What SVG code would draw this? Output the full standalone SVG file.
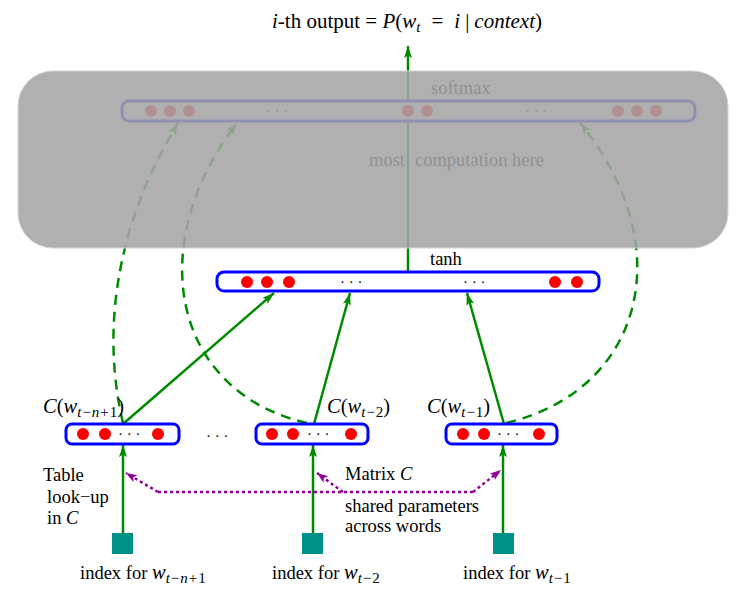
<svg xmlns="http://www.w3.org/2000/svg" width="752" height="590" viewBox="0 0 752 590">
<style>
  .t { font-family: "Liberation Serif", "Times New Roman", serif; font-size: 18.5px; fill: #000; }
  .big { font-size: 20.5px; }
  .ttl { font-size: 21px; }
  .it { font-style: italic; }
  .sub { font-size: 15px; }
  .layer { fill: #fff; stroke: #0000ff; stroke-width: 3; }
  .dot { fill: #ff0000; }
  .ell { font-family: "Liberation Serif", serif; font-size: 15px; fill: #000; }
  .arr { fill: none; stroke: #008a00; stroke-width: 2.5; }
  .dash { fill: none; stroke: #008a00; stroke-width: 2.5; stroke-dasharray: 10 7; }
  .pur { fill: none; stroke: #8e0096; stroke-width: 2.5; stroke-dasharray: 3 3; }
  .idx { fill: #009088; }
</style>
<defs>
  <marker id="ag" markerUnits="userSpaceOnUse" markerWidth="14" markerHeight="10" refX="12" refY="4" orient="auto">
    <path d="M0,0 L12,4 L0,8 L2.5,4 z" fill="#008a00"/>
  </marker>
  <marker id="ap" markerUnits="userSpaceOnUse" markerWidth="14" markerHeight="10" refX="11" refY="4" orient="auto">
    <path d="M0,0 L11,4 L0,8 L2.5,4 z" fill="#8e0096"/>
  </marker>
</defs>

<!-- title -->
<text class="t ttl" x="272" y="28"><tspan class="it">i</tspan>-th output = <tspan class="it">P</tspan>(<tspan class="it">w</tspan><tspan class="it sub" dy="4">t</tspan><tspan dy="-4" dx="11">=</tspan><tspan class="it" dx="11">i</tspan><tspan dx="5">|</tspan><tspan class="it" dx="5">context</tspan>)</text>

<g id="connectors">
  <line class="arr" x1="408" y1="272" x2="408" y2="46" marker-end="url(#ag)"/>
  <line class="arr" x1="123" y1="424" x2="274" y2="293" marker-end="url(#ag)"/>
  <line class="arr" x1="314" y1="424" x2="350" y2="293" marker-end="url(#ag)"/>
  <line class="arr" x1="504" y1="424" x2="467" y2="293" marker-end="url(#ag)"/>
  <path class="dash" d="M123,423 C101,330 116,225 178,123" marker-end="url(#ag)"/>
  <path class="dash" d="M307,423 C172,392 143,245 237,123" marker-end="url(#ag)"/>
  <path class="dash" d="M506,423 C645,390 680,245 580,123" marker-end="url(#ag)"/>
  <line class="arr" x1="123" y1="533" x2="123" y2="445" marker-end="url(#ag)"/>
  <line class="arr" x1="313" y1="533" x2="313" y2="445" marker-end="url(#ag)"/>
  <line class="arr" x1="503" y1="533" x2="503" y2="445" marker-end="url(#ag)"/>
  <path class="pur" d="M158,492 L473,492"/>
  <path class="pur" d="M158,492 L126,473" marker-end="url(#ap)"/>
  <path class="pur" d="M343,492 L317,473" marker-end="url(#ap)"/>
  <path class="pur" d="M473,492 L501,470" marker-end="url(#ap)"/>
</g>

<g id="softmax">
  <rect class="layer" x="122" y="101" width="573" height="20" rx="7"/>
  <circle class="dot" cx="151" cy="111" r="6"/>
  <circle class="dot" cx="170" cy="111" r="6"/>
  <circle class="dot" cx="189" cy="111" r="6"/>
  <text class="ell" x="266" y="116">· · ·</text>
  <circle class="dot" cx="408" cy="111" r="6"/>
  <circle class="dot" cx="427" cy="111" r="6"/>
  <text class="ell" x="525" y="116">· · ·</text>
  <circle class="dot" cx="618" cy="111" r="6"/>
  <circle class="dot" cx="637" cy="111" r="6"/>
  <circle class="dot" cx="656" cy="111" r="6"/>
  <text class="t" x="431" y="94">softmax</text>
  <text class="t" x="369" y="166">most<tspan dx="10">computation here</tspan></text>
</g>

<g id="hidden">
  <rect class="layer" x="217" y="272" width="382" height="19" rx="7"/>
  <circle class="dot" cx="247" cy="282" r="6"/>
  <circle class="dot" cx="267" cy="282" r="6"/>
  <circle class="dot" cx="289" cy="282" r="6"/>
  <text class="ell" x="340" y="287">· · ·</text>
  <text class="ell" x="463" y="287">· · ·</text>
  <circle class="dot" cx="555" cy="282" r="6"/>
  <circle class="dot" cx="577" cy="282" r="6"/>
  <text class="t" x="430" y="265">tanh</text>
</g>

<g id="c1">
  <rect class="layer" x="66" y="424" width="113" height="20" rx="6"/>
  <circle class="dot" cx="83" cy="434" r="6"/>
  <circle class="dot" cx="105" cy="434" r="6"/>
  <text class="ell" x="118" y="439">· · ·</text>
  <circle class="dot" cx="158" cy="434" r="6"/>
  <text class="t big" x="43" y="413"><tspan class="it">C</tspan>(<tspan class="it">w</tspan><tspan class="sub" dy="4"><tspan class="it">t</tspan><tspan dx="1">−</tspan><tspan class="it" dx="1">n</tspan><tspan dx="1">+</tspan><tspan dx="1">1</tspan></tspan><tspan dy="-4">)</tspan></text>
</g>
<text id="between" class="ell" x="206" y="441">· · ·</text>
<g id="c2">
  <rect class="layer" x="256" y="424" width="112" height="20" rx="6"/>
  <circle class="dot" cx="272" cy="434" r="6"/>
  <circle class="dot" cx="293" cy="434" r="6"/>
  <text class="ell" x="307" y="439">· · ·</text>
  <circle class="dot" cx="351" cy="434" r="6"/>
  <text class="t big" x="327" y="413"><tspan class="it">C</tspan>(<tspan class="it">w</tspan><tspan class="sub" dy="4"><tspan class="it">t</tspan><tspan dx="1">−</tspan><tspan dx="1">2</tspan></tspan><tspan dy="-4">)</tspan></text>
</g>
<g id="c3">
  <rect class="layer" x="446" y="424" width="111" height="20" rx="6"/>
  <circle class="dot" cx="463" cy="434" r="6"/>
  <circle class="dot" cx="484" cy="434" r="6"/>
  <text class="ell" x="497" y="439">· · ·</text>
  <circle class="dot" cx="539" cy="434" r="6"/>
  <text class="t big" x="427" y="413"><tspan class="it">C</tspan>(<tspan class="it">w</tspan><tspan class="sub" dy="4"><tspan class="it">t</tspan><tspan dx="1">−</tspan><tspan dx="1">1</tspan></tspan><tspan dy="-4">)</tspan></text>
</g>

<g id="idx1">
  <rect class="idx" x="112" y="533" width="21" height="21"/>
  <text class="t" x="80" y="579">index for <tspan class="it big">w</tspan><tspan class="sub" dy="4"><tspan class="it">t</tspan><tspan dx="1">−</tspan><tspan class="it" dx="1">n</tspan><tspan dx="1">+</tspan><tspan dx="1">1</tspan></tspan></text>
</g>
<g id="idx2">
  <rect class="idx" x="302" y="533" width="21" height="21"/>
  <text class="t" x="272" y="579">index for <tspan class="it big">w</tspan><tspan class="sub" dy="4"><tspan class="it">t</tspan><tspan dx="1">−</tspan><tspan dx="1">2</tspan></tspan></text>
</g>
<g id="idx3">
  <rect class="idx" x="493" y="533" width="21" height="21"/>
  <text class="t" x="463" y="579">index for <tspan class="it big">w</tspan><tspan class="sub" dy="4"><tspan class="it">t</tspan><tspan dx="1">−</tspan><tspan dx="1">1</tspan></tspan></text>
</g>

<g id="labels">
  <text class="t" x="43" y="481">Table</text>
  <text class="t" x="47" y="503">look−up</text>
  <text class="t" x="47" y="524">in <tspan class="it">C</tspan></text>
  <text class="t" x="345" y="480">Matrix <tspan class="it">C</tspan></text>
  <text class="t" x="345" y="512">shared parameters</text>
  <text class="t" x="345" y="532">across words</text>
</g>

<rect id="overlay" x="18" y="71" width="710" height="177" rx="35" fill="rgb(165,165,165)" fill-opacity="0.875" stroke="#d4d4d4" stroke-width="1"/>
</svg>
